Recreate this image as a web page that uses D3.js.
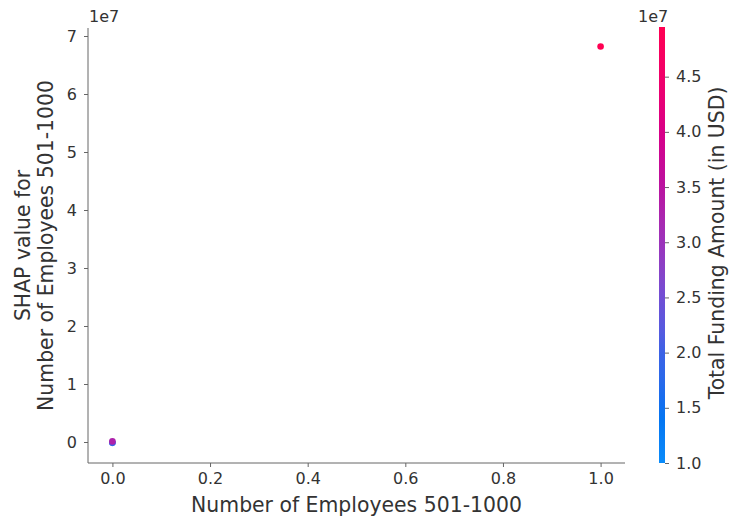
<!DOCTYPE html>
<html>
<head>
<meta charset="utf-8">
<script src="https://cdn.jsdelivr.net/npm/d3@7"></script>
<style>
  html, body { margin: 0; padding: 0; background: #fff; }
  svg text { font-family: "DejaVu Sans", sans-serif; fill: #333; }
</style>
</head>
<body>
<svg id="chart" width="730" height="520"></svg>
<script>
// Dependence of SHAP value on "Number of Employees 501-1000", coloured by funding
const employees = [0, 0, 0, 1];
const shapValues = [-0.015e7, -0.01e7, 0.01e7, 6.82e7];
const funding = [1.9e7, 2.0e7, 3.3e7, 4.95e7];

const xTicks = [0, 0.2, 0.4, 0.6, 0.8, 1.0];
const yTicks = [0, 1e7, 2e7, 3e7, 4e7, 5e7, 6e7, 7e7];
const cTicks = [1.0e7, 1.5e7, 2.0e7, 2.5e7, 3.0e7, 3.5e7, 4.0e7, 4.5e7];

// blue → purple → red ramp stops
const rampStops = ["#0a8cfa", "#0070f0", "#3a62e6", "#6e4fd6", "#9a34bc", "#b812a2", "#d6008a", "#f0006c", "#ff0052"];

const svg = d3.select("#chart");
const plot = { left: 88, right: 625, top: 28, bottom: 463 };
const cbar = { left: 659, width: 6, top: 27, bottom: 463 };

const x = d3.scaleLinear().domain([-0.05, 1.05]).range([plot.left, plot.right]);
const y = d3.scaleLinear().domain([-0.362e7, 7.138e7]).range([plot.bottom, plot.top]);
const cScale = d3.scaleLinear().domain([1.0e7, 4.95e7]).range([cbar.bottom, cbar.top]);

const colorInterp = d3.piecewise(d3.interpolateLab, rampStops);
const color = d3.scaleSequential(colorInterp).domain([1.0e7, 4.95e7]);

const spineColor = "#666";
const tickFont = 16;
const labelFont = 20.4;

// X axis
const xAxis = svg.append("g")
  .attr("transform", `translate(0,${plot.bottom})`)
  .call(d3.axisBottom(x).tickValues(xTicks).tickFormat(d3.format(".1f")).tickSize(4).tickPadding(6));
xAxis.select(".domain").attr("d", `M${plot.left},0H${plot.right}`).attr("stroke", spineColor);
xAxis.selectAll(".tick line").attr("stroke", spineColor);
xAxis.selectAll(".tick text").attr("font-size", tickFont).attr("fill", "#333");

// Y axis
const yAxis = svg.append("g")
  .attr("transform", `translate(${plot.left},0)`)
  .call(d3.axisLeft(y).tickValues(yTicks).tickFormat(d => d3.format("d")(d / 1e7)).tickSize(4).tickPadding(7));
yAxis.select(".domain").attr("d", `M0,${plot.top}V${plot.bottom}`).attr("stroke", spineColor);
yAxis.selectAll(".tick line").attr("stroke", spineColor);
yAxis.selectAll(".tick text").attr("font-size", tickFont).attr("fill", "#333");

// offset multiplier
svg.append("text").attr("x", plot.left + 1).attr("y", 22).attr("font-size", tickFont).text("1e7");

// points
svg.append("g").selectAll("circle")
  .data(employees.map((e, i) => ({ e, s: shapValues[i], f: funding[i] })))
  .join("circle")
  .attr("cx", d => x(d.e))
  .attr("cy", d => y(d.s))
  .attr("r", 3.3)
  .attr("fill", d => color(d.f));

// axis labels
svg.append("text")
  .attr("x", (plot.left + plot.right) / 2).attr("y", 512)
  .attr("text-anchor", "middle").attr("font-size", labelFont)
  .text("Number of Employees 501-1000");

const yl = svg.append("text")
  .attr("transform", `translate(30,${(plot.top + plot.bottom) / 2}) rotate(-90)`)
  .attr("text-anchor", "middle").attr("font-size", labelFont);
yl.append("tspan").attr("x", 0).attr("dy", 0).text("SHAP value for");
yl.append("tspan").attr("x", 0).attr("dy", 23).text("Number of Employees 501-1000");

// colour bar
const defs = svg.append("defs");
const grad = defs.append("linearGradient").attr("id", "cbgrad")
  .attr("x1", 0).attr("y1", 1).attr("x2", 0).attr("y2", 0);
d3.range(0, 1.0001, 0.05).forEach(t => {
  grad.append("stop").attr("offset", t).attr("stop-color", colorInterp(t));
});
svg.append("rect")
  .attr("x", cbar.left).attr("y", cbar.top)
  .attr("width", cbar.width).attr("height", cbar.bottom - cbar.top)
  .attr("fill", "url(#cbgrad)");

const cAxis = svg.append("g")
  .attr("transform", `translate(${cbar.left + cbar.width},0)`)
  .call(d3.axisRight(cScale).tickValues(cTicks).tickFormat(d => d3.format(".1f")(d / 1e7)).tickSize(4).tickPadding(7));
cAxis.select(".domain").remove();
cAxis.selectAll(".tick line").attr("stroke", spineColor);
cAxis.selectAll(".tick text").attr("font-size", tickFont).attr("fill", "#333");

svg.append("text").attr("x", 638).attr("y", 22).attr("font-size", tickFont).text("1e7");

svg.append("text")
  .attr("transform", `translate(724,${(cbar.top + cbar.bottom) / 2 - 2}) rotate(-90)`)
  .attr("text-anchor", "middle").attr("font-size", labelFont)
  .text("Total Funding Amount (in USD)");
</script>
</body>
</html>
